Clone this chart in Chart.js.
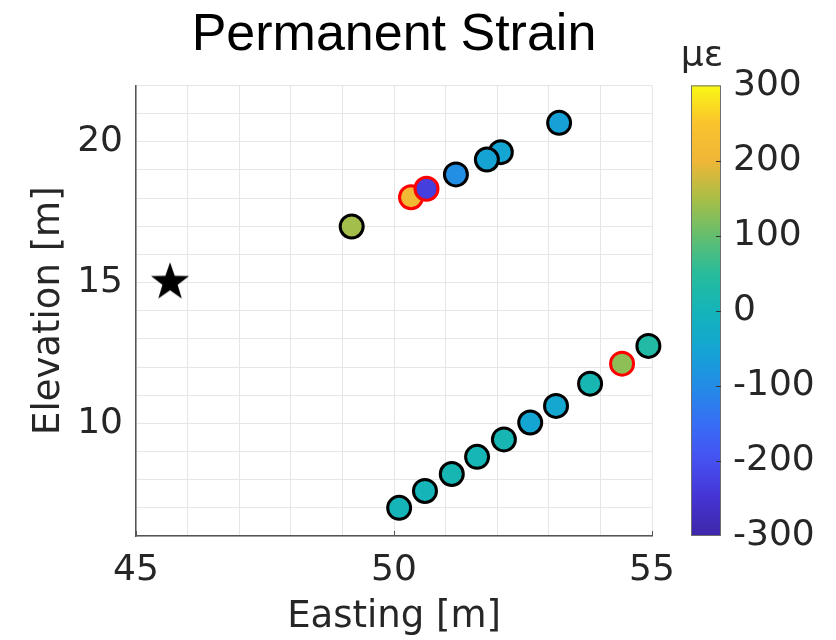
<!DOCTYPE html>
<html lang="en">
<head>
  <meta charset="UTF-8">
  <title>Permanent Strain</title>
  <script src="https://cdn.jsdelivr.net/npm/chart.js"></script>
  <style>
    html, body {
      margin: 0;
      padding: 0;
      background: #ffffff;
    }
    #wrap {
      width: 836px;
      height: 640px;
    }
  </style>
</head>
<body>
  <div id="wrap"><canvas id="grafico" width="836" height="640"></canvas></div>

  <script>
    // sensor positions (m) and permanent strain (microstrain)
    const eastings   = [49.18, 50.33, 50.63, 51.20, 52.07, 51.80, 53.20,
                        50.10, 50.60, 51.12, 51.61, 52.13, 52.64, 53.14, 53.80, 54.42, 54.93];
    const elevations = [16.99, 18.03, 18.33, 18.84, 19.63, 19.37, 20.67,
                        7.00, 7.60, 8.20, 8.81, 9.43, 10.03, 10.62, 11.41, 12.12, 12.75];
    const strains    = [145, 210, -230, -95, -50, -55, -60,
                        0, 0, 10, 5, 10, -50, -45, 10, 130, 35];
    const flagged    = [false, true, true, false, false, false, false,
                        false, false, false, false, false, false, false, false, true, false];

    const sourceX = [45.66];
    const sourceY = [15.08];

    const xTicks = [45, 50, 55];
    const yTicks = [10, 15, 20];
    const cbTicks = [-300, -200, -100, 0, 100, 200, 300];
    const cbMin = -300, cbMax = 300;

    // parula-like colormap picked from the colorbar, one stop every 50 µε
    const parula = [
      [62, 38, 168], [68, 52, 210], [70, 80, 240], [55, 110, 245],
      [35, 140, 230], [20, 165, 210], [20, 180, 185], [40, 188, 155],
      [100, 190, 110], [170, 190, 70], [240, 182, 55], [250, 195, 45],
      [249, 250, 20]
    ];

    function colorAt(t) {
      t = Math.max(0, Math.min(1, t));
      const p = t * (parula.length - 1);
      const i = Math.min(Math.floor(p), parula.length - 2);
      const f = p - i;
      const a = parula[i], b = parula[i + 1];
      const c = a.map((v, k) => Math.round(v + (b[k] - v) * f));
      return `rgb(${c[0]},${c[1]},${c[2]})`;
    }

    function strainColor(v) {
      return colorAt((v - cbMin) / (cbMax - cbMin));
    }

    // filled 5 point star for the source marker
    function makeStar(r) {
      const c = document.createElement('canvas');
      const size = Math.ceil(r * 2 + 2);
      c.width = size;
      c.height = size;
      const g = c.getContext('2d');
      const cx = size / 2, cy = size / 2 + r * 0.1;
      g.beginPath();
      for (let i = 0; i < 10; i++) {
        const rad = i % 2 === 0 ? r : r * 0.4;
        const ang = -Math.PI / 2 + i * Math.PI / 5;
        const px = cx + rad * Math.cos(ang), py = cy + rad * Math.sin(ang);
        if (i === 0) g.moveTo(px, py); else g.lineTo(px, py);
      }
      g.closePath();
      g.fillStyle = '#000';
      g.fill();
      return c;
    }

    const colorbarPlugin = {
      id: 'colorbar',
      afterDraw(chart) {
        const ctx = chart.ctx;
        const s = chart.scales.cb;
        const top = s.getPixelForValue(cbMax);
        const bottom = s.getPixelForValue(cbMin);
        const x0 = 691, x1 = 721;
        const grad = ctx.createLinearGradient(0, bottom, 0, top);
        parula.forEach((c, i) => {
          grad.addColorStop(i / (parula.length - 1), `rgb(${c[0]},${c[1]},${c[2]})`);
        });
        ctx.save();
        ctx.fillStyle = grad;
        ctx.fillRect(x0, top, x1 - x0, bottom - top);
        ctx.strokeStyle = '#6e6e6e';
        ctx.lineWidth = 1;
        ctx.strokeRect(x0 + 0.5, top + 0.5, x1 - x0 - 1, bottom - top - 1);
        ctx.strokeStyle = '#333';
        cbTicks.forEach(v => {
          if (v === cbMin || v === cbMax) return;
          const y = Math.round(s.getPixelForValue(v)) + 0.5;
          ctx.beginPath();
          ctx.moveTo(x1 - 5, y);
          ctx.lineTo(x1, y);
          ctx.stroke();
        });
        // small major tick marks on the bottom axis
        const xs = chart.scales.x;
        ctx.strokeStyle = '#555';
        xTicks.forEach(v => {
          const x = Math.round(xs.getPixelForValue(v)) + 0.5;
          ctx.beginPath();
          ctx.moveTo(x, xs.top);
          ctx.lineTo(x, xs.top - 5);
          ctx.stroke();
        });
        ctx.fillStyle = '#262626';
        ctx.font = '36px "DejaVu Sans"';
        ctx.textAlign = 'center';
        ctx.textBaseline = 'alphabetic';
        ctx.fillText('με', 702, 66);
        ctx.restore();
      }
    };

    Chart.defaults.font.family = '"DejaVu Sans", sans-serif';
    Chart.defaults.color = '#262626';

    const ctx = document.getElementById('grafico').getContext('2d');
    const grafico = new Chart(ctx, {
      type: 'scatter',
      data: {
        datasets: [
          {
            label: 'Source',
            data: sourceX.map((x, i) => ({ x: x, y: sourceY[i] })),
            pointStyle: makeStar(20),
            pointRadius: 20,
            clip: false
          },
          {
            label: 'Permanent strain',
            data: eastings.map((x, i) => ({ x: x, y: elevations[i] })),
            pointRadius: 11.5,
            pointBorderWidth: 3,
            pointBackgroundColor: strains.map(strainColor),
            pointBorderColor: flagged.map(f => f ? '#ff0000' : '#000000'),
            clip: false
          }
        ]
      },
      plugins: [colorbarPlugin],
      options: {
        responsive: false,
        animation: false,
        events: [],
        layout: { padding: 0, autoPadding: false },
        plugins: {
          legend: { display: false },
          tooltip: { enabled: false },
          title: {
            display: true,
            text: 'Permanent Strain',
            fullSize: false,
            color: '#000000',
            font: { family: '"Liberation Sans", Arial, sans-serif', size: 52, weight: 'normal', lineHeight: 1.2 },
            padding: { top: 4, bottom: 19 }
          }
        },
        scales: {
          x: {
            type: 'linear',
            min: 45,
            max: 55,
            afterFit(s) { s.height = 104; },
            afterBuildTicks(s) {
              s.ticks = [];
              for (let v = 45; v <= 55; v++) s.ticks.push({ value: v });
            },
            ticks: {
              autoSkip: false,
              maxRotation: 0,
              padding: 13,
              font: { size: 36 },
              callback: v => xTicks.includes(v) ? String(v) : ''
            },
            grid: { color: '#e6e6e6', drawTicks: false },
            border: { display: true, color: '#555555', width: 1.5 },
            title: {
              display: true,
              text: 'Easting [m]',
              font: { size: 37 },
              padding: { top: 0, bottom: 0 }
            }
          },
          y: {
            type: 'linear',
            min: 6,
            max: 22,
            afterFit(s) { s.width = 136; },
            afterBuildTicks(s) {
              s.ticks = [];
              for (let v = 6; v <= 22; v++) s.ticks.push({ value: v });
            },
            ticks: {
              autoSkip: false,
              padding: 13,
              font: { size: 36 },
              callback: v => yTicks.includes(v) ? String(v) : ''
            },
            grid: { color: '#e6e6e6', drawTicks: false },
            border: { display: true, color: '#555555', width: 1.5 },
            title: {
              display: true,
              text: 'Elevation [m]',
              font: { size: 37 },
              padding: { top: 27, bottom: 0 }
            }
          },
          cb: {
            type: 'linear',
            position: 'right',
            min: cbMin,
            max: cbMax,
            afterFit(s) { s.width = 184; },
            afterBuildTicks(s) {
              s.ticks = cbTicks.map(v => ({ value: v }));
            },
            ticks: {
              autoSkip: false,
              padding: 3,
              font: { size: 36 },
              callback: v => String(v)
            },
            // invisible tick marks only push the labels clear of the colour bar
            grid: { display: true, drawOnChartArea: false, drawTicks: true, tickLength: 78, color: 'rgba(0,0,0,0)' },
            border: { display: false }
          }
        }
      }
    });
  </script>
</body>
</html>
